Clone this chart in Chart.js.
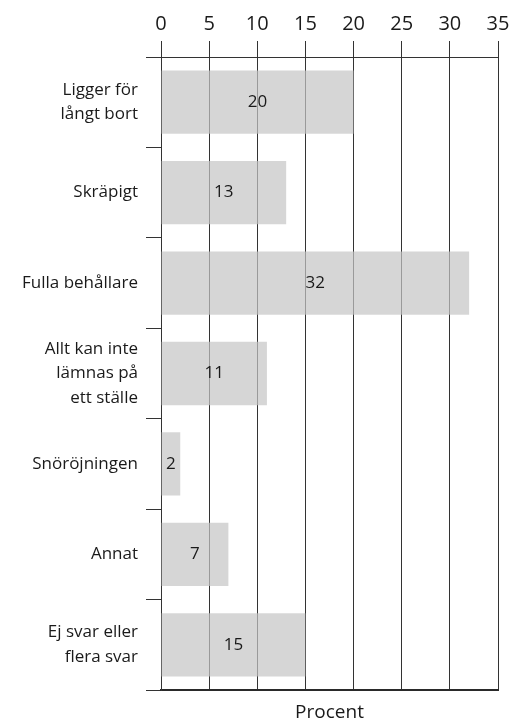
<!DOCTYPE html>
<html>
<head>
<meta charset="utf-8">
<script src="https://cdn.jsdelivr.net/npm/chart.js@4"></script>
<style>
  body { margin: 0; background: #fff; }
</style>
</head>
<body>
<canvas id="barChart" width="515" height="724"></canvas>
<script>
// Данные
const categories = [
  ['Ligger för', 'långt bort'],
  'Skräpigt',
  'Fulla behållare',
  ['Allt kan inte', 'lämnas på', 'ett ställe'],
  'Snöröjningen',
  'Annat',
  ['Ej svar eller', 'flera svar']
];
const values = [20, 13, 32, 11, 2, 7, 15];
const xTicks = [0, 5, 10, 15, 20, 25, 30, 35];
const axisTitle = 'Procent';

const dark = '#333333';
const font = 'Open Sans';

// Подписи значений в центре столбцов
const valueLabels = {
  id: 'valueLabels',
  afterDatasetsDraw(chart) {
    const ctx = chart.ctx;
    const meta = chart.getDatasetMeta(0);
    ctx.save();
    ctx.font = '17px "' + font + '"';
    ctx.fillStyle = '#1a1a1a';
    ctx.textAlign = 'center';
    ctx.textBaseline = 'middle';
    meta.data.forEach((bar, i) => {
      const props = bar.getProps(['x', 'y', 'base'], true);
      ctx.fillText(String(values[i]), (props.x + props.base) / 2, props.y);
    });
    ctx.restore();
  }
};

const ctxBar = document.getElementById('barChart');
const chart = new Chart(ctxBar, {
  type: 'bar',
  data: {
    labels: categories,
    datasets: [{
      data: values,
      backgroundColor: 'rgba(197, 197, 197, 0.71)',
      borderWidth: 0,
      barPercentage: 0.7,
      categoryPercentage: 1
    }]
  },
  options: {
    indexAxis: 'y',
    responsive: false,
    animation: false,
    layout: {
      padding: { left: 0, right: 17, top: 0, bottom: 0 }
    },
    plugins: {
      legend: { display: false },
      tooltip: { enabled: false }
    },
    scales: {
      x: {
        position: 'top',
        min: 0,
        max: 35,
        afterBuildTicks(scale) {
          scale.ticks = xTicks.map(v => ({ value: v }));
        },
        afterFit(scale) {
          scale.height = 57;
        },
        grid: {
          color: dark,
          tickColor: dark,
          lineWidth: 1,
          tickLength: 16
        },
        border: { display: true, color: dark, width: 1 },
        ticks: {
          color: '#1a1a1a',
          padding: 5,
          font: { family: font, size: 20 }
        }
      },
      // нижняя ось: только линия и подпись
      x2: {
        position: 'bottom',
        min: 0,
        max: 35,
        afterFit(scale) {
          scale.height = 34;
        },
        grid: { display: true, drawOnChartArea: false, drawTicks: false, color: dark },
        border: { display: true, color: '#2a2a2a', width: 2 },
        ticks: { display: false },
        title: {
          display: true,
          text: axisTitle,
          color: '#1a1a1a',
          padding: { top: 7, bottom: 0 },
          font: { family: font, size: 19 }
        }
      },
      y: {
        afterFit(scale) {
          scale.width = 161;
        },
        grid: {
          drawOnChartArea: false,
          color: dark,
          tickColor: dark,
          tickLength: 15,
          lineWidth: 1
        },
        border: { display: true, color: dark, width: 1 },
        ticks: {
          color: '#1a1a1a',
          padding: 8,
          font: { family: font, size: 17, lineHeight: 1.45 }
        }
      }
    }
  },
  plugins: [valueLabels]
});
</script>
</body>
</html>
